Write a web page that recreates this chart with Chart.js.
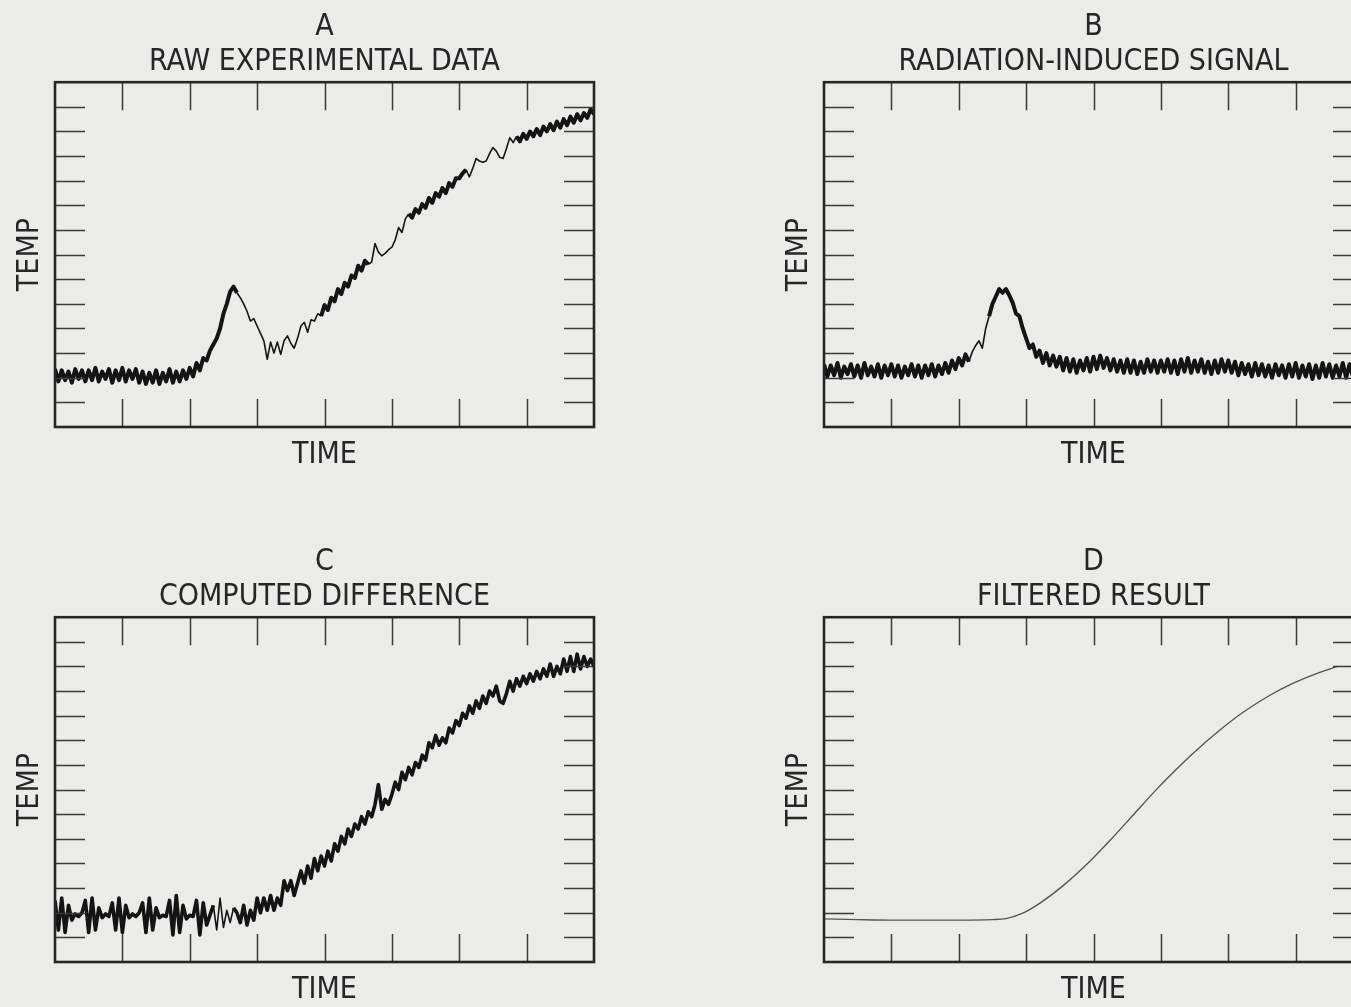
<!DOCTYPE html>
<html>
<head>
<meta charset="utf-8">
<title>Temperature traces</title>
<script src="https://cdn.jsdelivr.net/npm/chart.js@4.4.1/dist/chart.umd.min.js"></script>
<style>
  html, body { margin: 0; padding: 0; background: #ebebea; overflow: hidden; }
  body { width: 1351px; height: 1007px; position: relative; }
  canvas { position: absolute; }
  #panelA { left: 0; top: 0; }
  #panelB { left: 769px; top: 0; }
  #panelC { left: 0; top: 535px; }
  #panelD { left: 769px; top: 535px; }
</style>
</head>
<body>
<canvas id="panelA" width="620" height="476"></canvas>
<canvas id="panelB" width="620" height="476"></canvas>
<canvas id="panelC" width="620" height="476"></canvas>
<canvas id="panelD" width="620" height="476"></canvas>
<script>
'use strict';

// tick marks (drawn inward on all four sides)
let timeTicks = [1, 2, 3, 4, 5, 6, 7];
let tempTicks = [1, 2, 3, 4, 5, 6, 7, 8, 9, 10, 11, 12, 13];

// traces A, B, C are sampled every 0.05 time units from 0 to 8
let sampleStep = 0.05;

// A - raw experimental data
let rawTemps = [
  2.35, 1.85, 2.3, 1.9, 2.25, 1.8, 2.35, 1.95, 2.3, 1.85,
  2.3, 1.9, 2.4, 1.85, 2.25, 1.95, 2.35, 1.8, 2.3, 1.9,
  2.4, 1.85, 2.3, 1.95, 2.35, 1.8, 2.25, 1.75, 2.2, 1.8,
  2.3, 1.75, 2.2, 1.85, 2.35, 1.8, 2.25, 1.85, 2.3, 1.95,
  2.4, 2.05, 2.6, 2.3, 2.8, 2.7, 3.1, 3.35, 3.6, 4.0,
  4.6, 5.0, 5.5, 5.7, 5.45, 5.25, 5.0, 4.7, 4.3, 4.4,
  4.1, 3.8, 3.5, 2.75, 3.45, 3.0, 3.45, 2.95, 3.5, 3.7,
  3.4, 3.2, 3.6, 4.1, 4.25, 3.85, 4.35, 4.3, 4.6, 4.5,
  4.95, 4.75, 5.25, 5.1, 5.6, 5.4, 5.85, 5.7, 6.15, 6.05,
  6.55, 6.35, 6.75, 6.6, 6.7, 7.45, 7.1, 6.95, 7.05, 7.2,
  7.3, 7.6, 8.1, 7.9, 8.45, 8.65, 8.5, 8.85, 8.7, 9.05,
  8.9, 9.3, 9.1, 9.5, 9.35, 9.7, 9.5, 9.9, 9.75, 10.1,
  10.1, 10.3, 10.45, 10.15, 10.5, 10.9, 10.8, 10.75, 10.8, 11.1,
  11.35, 11.2, 10.95, 10.9, 11.3, 11.75, 11.55, 11.8, 11.6, 11.9,
  11.7, 12.0, 11.8, 12.1, 11.85, 12.2, 12.0, 12.3, 12.05, 12.4,
  12.15, 12.5, 12.25, 12.6, 12.35, 12.7, 12.45, 12.75, 12.55, 12.9, 12.7
];

// B - radiation-induced signal
let radiationTemps = [
  2.55, 2.05, 2.5, 2.1, 2.6, 2.0, 2.45, 2.15, 2.55, 2.05,
  2.5, 2.0, 2.6, 2.1, 2.45, 2.05, 2.55, 2.0, 2.5, 2.1,
  2.55, 2.05, 2.5, 2.0, 2.45, 2.1, 2.55, 2.05, 2.5, 2.0,
  2.5, 2.1, 2.55, 2.05, 2.5, 2.15, 2.6, 2.2, 2.7, 2.35,
  2.8, 2.5, 2.95, 2.65, 3.05, 3.3, 3.5, 3.2, 4.0, 4.5,
  5.0, 5.3, 5.6, 5.45, 5.6, 5.35, 5.05, 4.6, 4.5, 4.0,
  3.6, 3.2, 3.35, 2.85, 3.1, 2.6, 3.0, 2.5, 2.9, 2.45,
  2.85, 2.3, 2.8, 2.25, 2.75, 2.2, 2.7, 2.3, 2.8, 2.25,
  2.85, 2.35, 2.9, 2.4, 2.8, 2.3, 2.75, 2.25, 2.7, 2.2,
  2.75, 2.2, 2.7, 2.15, 2.65, 2.2, 2.75, 2.25, 2.7, 2.2,
  2.7, 2.25, 2.75, 2.2, 2.7, 2.15, 2.75, 2.25, 2.8, 2.2,
  2.7, 2.25, 2.75, 2.2, 2.65, 2.15, 2.7, 2.2, 2.75, 2.25,
  2.7, 2.2, 2.65, 2.1, 2.6, 2.15, 2.55, 2.05, 2.6, 2.1,
  2.55, 2.05, 2.5, 2.0, 2.55, 2.1, 2.5, 2.0, 2.55, 2.05,
  2.6, 2.0, 2.5, 2.05, 2.55, 1.95, 2.5, 2.0, 2.6, 2.05,
  2.55, 2.0, 2.5, 2.05, 2.6, 2.0, 2.55, 2.05, 2.5, 2.0, 2.55
];

// C - computed difference
let differenceTemps = [
  2.5, 1.3, 2.6, 1.2, 2.3, 1.7, 1.95, 1.85, 2.0, 2.5,
  1.2, 2.6, 1.3, 2.2, 1.8, 1.95, 1.85, 2.4, 1.3, 2.6,
  1.2, 2.3, 1.8, 1.95, 1.85, 2.0, 2.4, 1.2, 2.6, 1.3,
  2.2, 1.8, 1.9, 1.85, 2.5, 1.1, 2.7, 1.2, 2.3, 1.75,
  1.9, 1.85, 2.5, 1.1, 2.4, 1.5, 1.9, 2.3, 1.3, 2.6,
  1.4, 2.1, 1.6, 2.2, 2.0, 1.6, 2.3, 1.5, 2.1, 1.7,
  2.6, 2.0, 2.6, 2.1, 2.7, 2.1, 2.6, 2.3, 3.3, 2.9,
  3.3, 2.7, 3.2, 3.7, 3.2, 3.9, 3.4, 4.2, 3.7, 4.3,
  3.9, 4.5, 4.1, 4.8, 4.5, 5.1, 4.8, 5.4, 5.1, 5.6,
  5.4, 5.9, 5.6, 6.1, 5.9, 6.4, 7.2, 6.2, 6.6, 6.4,
  6.8, 7.3, 7.0, 7.7, 7.4, 7.9, 7.6, 8.1, 7.9, 8.4,
  8.2, 8.9, 8.7, 9.2, 8.8, 9.1, 8.9, 9.5, 9.3, 9.8,
  9.6, 10.1, 9.9, 10.4, 10.1, 10.6, 10.3, 10.8, 10.5, 11.0,
  10.8, 11.2, 10.6, 10.5, 10.9, 11.4, 11.0, 11.5, 11.2, 11.6,
  11.3, 11.7, 11.4, 11.8, 11.5, 11.9, 11.6, 12.1, 11.6, 12.0,
  11.7, 12.3, 11.8, 12.4, 11.8, 12.5, 11.9, 12.4, 12.0, 12.3, 12.0
];

// D - filtered result (smooth curve, read at uneven times)
let filteredTimes = [0, 0.5, 1.0, 1.5, 2.0, 2.5, 2.7, 2.95, 3.2, 3.55, 3.95, 4.25, 4.6, 4.95, 5.25, 5.5, 5.85, 6.2, 6.6, 6.95, 7.3, 7.62];
let filteredTemps = [1.75, 1.72, 1.7, 1.7, 1.7, 1.72, 1.76, 1.98, 2.38, 3.1, 4.1, 4.95, 6.0, 7.05, 7.88, 8.53, 9.36, 10.1, 10.8, 11.3, 11.7, 12.0];

// stretches where the recorder trace is a thin single line instead of a noisy band
let thinStretches = [
  [[2.7, 3.95], [4.65, 5.25], [6.1, 6.85]],
  [[2.15, 2.45]],
  [[2.35, 2.65]],
  []
];

let letters = ['A', 'B', 'C', 'D'];
let subtitles = ['RAW EXPERIMENTAL DATA', 'RADIATION-INDUCED SIGNAL', 'COMPUTED DIFFERENCE', 'FILTERED RESULT'];

let inkColor = '#262626';
let traceColor = '#141414';
let labelFont = 'DejaVu Sans Condensed';

function sampled(values) {
  let points = [];
  for (let i = 0; i < values.length; i++) {
    points.push({ x: Math.round(i * sampleStep * 100) / 100, y: values[i] });
  }
  return points;
}

function paired(times, values) {
  let points = [];
  for (let i = 0; i < times.length; i++) {
    points.push({ x: times[i], y: values[i] });
  }
  return points;
}

function isThin(index, x) {
  let stretches = thinStretches[index];
  for (let i = 0; i < stretches.length; i++) {
    if (x >= stretches[i][0] && x < stretches[i][1]) {
      return true;
    }
  }
  return false;
}

// frame and inward tick marks, placed with the chart's own scales
const framePlugin = {
  id: 'frame',
  afterDatasetsDraw(chart) {
    const ctx = chart.ctx;
    const area = chart.chartArea;
    const xScale = chart.scales.x;
    const yScale = chart.scales.y;
    ctx.save();
    ctx.strokeStyle = '#3a3a3a';
    ctx.lineWidth = 1.5;
    ctx.beginPath();
    for (let i = 0; i < timeTicks.length; i++) {
      let px = Math.round(xScale.getPixelForValue(timeTicks[i])) + 0.5;
      ctx.moveTo(px, area.top);
      ctx.lineTo(px, area.top + 28);
      ctx.moveTo(px, area.bottom);
      ctx.lineTo(px, area.bottom - 28);
    }
    for (let i = 0; i < tempTicks.length; i++) {
      let py = Math.round(yScale.getPixelForValue(tempTicks[i])) + 0.5;
      ctx.moveTo(area.left, py);
      ctx.lineTo(area.left + 30, py);
      ctx.moveTo(area.right, py);
      ctx.lineTo(area.right - 30, py);
    }
    ctx.stroke();
    ctx.strokeStyle = inkColor;
    ctx.lineWidth = 2.6;
    ctx.strokeRect(area.left, area.top, area.width, area.height);
    ctx.restore();
  }
};

function makePanel(canvasId, index, points, lineWidth, lineColor, smooth) {
  const ctx = document.getElementById(canvasId);
  return new Chart(ctx, {
    type: 'line',
    data: {
      datasets: [{
        data: points,
        borderColor: lineColor,
        borderWidth: lineWidth,
        borderJoinStyle: 'round',
        pointRadius: 0,
        tension: 0,
        cubicInterpolationMode: smooth ? 'monotone' : 'default',
        fill: false,
        segment: {
          borderWidth: function (seg) {
            return isThin(index, seg.p0.parsed.x) ? 1.6 : lineWidth;
          }
        }
      }]
    },
    options: {
      responsive: false,
      animation: false,
      events: [],
      layout: { padding: { left: 10, right: 26, top: 0, bottom: 0 } },
      plugins: {
        legend: { display: false },
        tooltip: { enabled: false },
        title: {
          display: true,
          fullSize: false,
          text: [letters[index], subtitles[index]],
          color: inkColor,
          font: { family: labelFont, size: 30, weight: 'normal', lineHeight: 1.17 },
          padding: { top: 10, bottom: 2 }
        }
      },
      scales: {
        x: {
          type: 'linear',
          min: 0,
          max: 8,
          grid: { display: false, drawTicks: false },
          border: { display: false },
          ticks: { display: false },
          title: {
            display: true,
            text: 'TIME',
            color: inkColor,
            font: { family: labelFont, size: 30, lineHeight: 1.0 },
            padding: { top: 13, bottom: 6 }
          }
        },
        y: {
          min: 0,
          max: 14,
          grid: { display: false, drawTicks: false },
          border: { display: false },
          ticks: { display: false },
          title: {
            display: true,
            text: 'TEMP',
            color: inkColor,
            font: { family: labelFont, size: 30, lineHeight: 1.0 },
            padding: { top: 5, bottom: 10 }
          }
        }
      }
    },
    plugins: [framePlugin]
  });
}

makePanel('panelA', 0, sampled(rawTemps), 4.0, traceColor, false);
makePanel('panelB', 1, sampled(radiationTemps), 4.0, traceColor, false);
makePanel('panelC', 2, sampled(differenceTemps), 3.6, traceColor, false);
makePanel('panelD', 3, paired(filteredTimes, filteredTemps), 1.4, '#555555', true);
</script>
</body>
</html>
